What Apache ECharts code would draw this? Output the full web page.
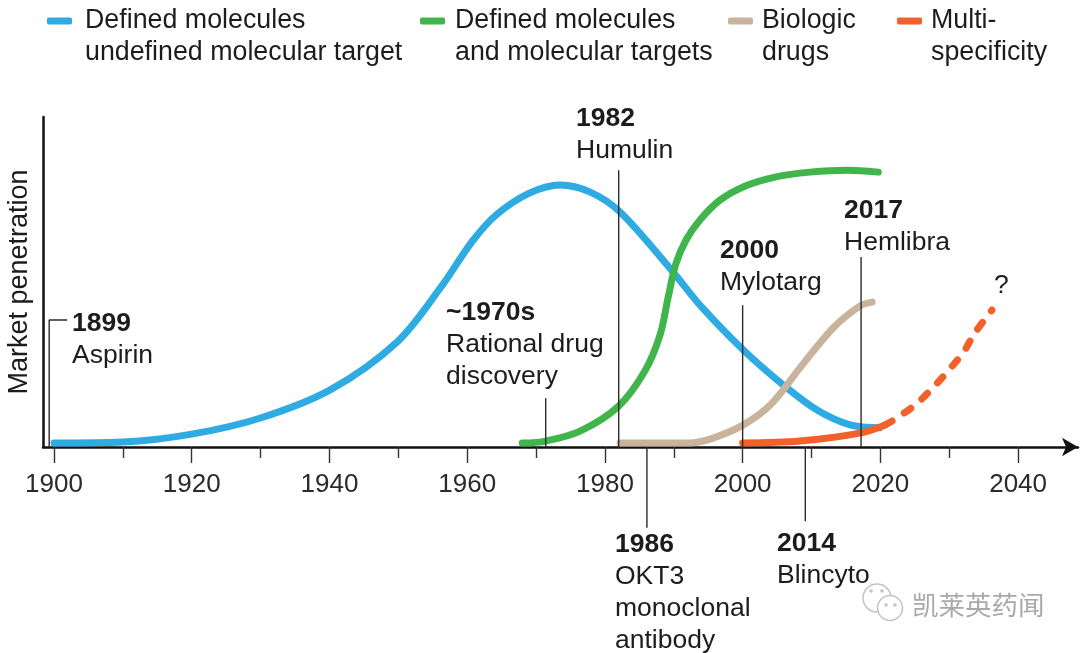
<!DOCTYPE html>
<html>
<head>
<meta charset="utf-8">
<title>Market penetration</title>
<script src="https://cdn.jsdelivr.net/npm/echarts@6/dist/echarts.min.js"></script>
<style>
html,body{margin:0;padding:0;background:#fff;}
#main{width:1080px;height:653px;}
</style>
</head>
<body>
<div id="main"></div>
<script>
// curves: year / market penetration
var blueYears = [1900,1910,1920,1930,1940.1,1949.8,1956.1,1960.8,1964.3,1969.1,1973.5,1977.8,1982.2,1989.9,1993.8,2000.1,2005.9,2010.8,2015.6,2019.9];
var blueValues = [1.2,1.5,3.9,8.8,17.3,31.8,48.2,62.5,70.5,77,79.4,77.3,71.2,53,43,29.4,18.8,11.2,6.7,5.8];
var greenYears = [1968,1971.4,1976.4,1982,1985.8,1988,1989.2,1990.3,1991.8,1993.8,1996.7,2000.4,2004.7,2009.8,2015.2,2019.7];
var greenValues = [1.2,1.8,4.8,12.4,23,33.9,45.5,55.5,62.8,68.8,74.8,79.1,81.8,83.3,83.9,83.3];
var tanYears = [1982.2,1992.3,1995.7,2000.1,2004,2008.3,2013.1,2017,2018.8];
var tanValues = [1.2,1.2,2.7,6.7,12.7,23.9,36,42.7,43.9];
var orangeYears = [2000,2008.3,2017,2020.7];
var orangeValues = [1.2,1.8,4.2,6.7];
var dashYears = [2020.7,2022.4,2025.2,2027.6,2029.8,2032,2033.7,2036.2];
var dashValues = [6.7,8.8,13,17.9,23,28.5,34.5,41.5];

// leader lines
var leaderYears = [1971.4,1982,1986.1,2000,2009.1,2017.2];
var leaderValues = [14.8,83.9,-24.5,43,-22.5,57.6];
var aspirinYears = [1901.9,1899.3,1899.3];
var aspirinValues = [38.5,38.5,0];

// ticks
var majorTicks = [1900,1920,1940,1960,1980,2000,2020,2040];
var minorTicks = [1910,1930,1950,1970,1990,2010,2030];

var legendNames = ['Defined molecules\nundefined molecular target','Defined molecules\nand molecular targets','Biologic\ndrugs','Multi-\nspecificity'];
var noteTitles = ['1899','~1970s','1982','2000','2017','1986','2014','?'];
var noteLines = [['Aspirin'],['Rational drug','discovery'],['Humulin'],['Mylotarg'],['Hemlibra'],['OKT3','monoclonal','antibody'],['Blincyto'],[]];
var watermark = '凯莱英药闻';

var FONT = '"Liberation Sans", Arial, sans-serif';
var TEXT = '#1c1c1c';
var notePos = [[72,322],[446,311],[576,117],[720,249],[844,209],[615,543],[777,542],[994,284]];
var legendLeft = [47,420,728,897];
var legendGap = [8,5,4,4];
var legendColors = ['#2dabe2','#3fb54c','#c9b39c','#f4602a'];

function zip(a,b){
	var r = [];
	for(var i=0;i<a.length;i++){ r.push([a[i],b[i]]); }
	return r;
}

function curve(name,years,values,color,dash){
	return {
		name:name,type:'line',data:zip(years,values),smooth:0.33,showSymbol:false,clip:false,silent:true,
		color:color,
		lineStyle:{color:color,width:7,cap:'round',join:'round',type:dash?[8,14.5]:'solid'}
	};
}

var series = [
	curve(legendNames[0],blueYears,blueValues,legendColors[0]),
	curve(legendNames[1],greenYears,greenValues,legendColors[1]),
	curve(legendNames[2],tanYears,tanValues,legendColors[2]),
	curve(legendNames[3],orangeYears,orangeValues,legendColors[3]),
	curve('projected',dashYears,dashValues,legendColors[3],true)
];

// 引线画在曲线上面
function leader(data){
	return {type:'line',data:data,showSymbol:false,clip:false,silent:true,z:5,lineStyle:{color:'#2b2b2b',width:1.4}};
}
for(var i=0;i<leaderYears.length;i++){
	series.push(leader([[leaderYears[i],0],[leaderYears[i],leaderValues[i]]]));
}
series.push(leader(zip(aspirinYears,aspirinValues)));

var legends = [];
for(var j=0;j<legendNames.length;j++){
	legends.push({
		data:[{name:legendNames[j],icon:'roundRect'}],
		left:legendLeft[j],top:-27,padding:0,
		itemWidth:25,itemHeight:7,selectedMode:false,
		// 空的第一行让图标对齐文字第一行
		formatter:function(n){return ' \n'+n;},
		textStyle:{fontFamily:FONT,fontSize:26.8,lineHeight:32,color:TEXT,padding:[0,0,0,legendGap[j]]}
	});
}

var graphics = [];
function addText(x,y,str,bold){
	graphics.push({type:'text',left:x,top:y-13,silent:true,style:{
		text:str,x:0,y:0,fill:TEXT,font:(bold?'bold ':'')+'26.5px '+FONT,textVerticalAlign:'top',lineHeight:30
	}});
}
for(var k=0;k<noteTitles.length;k++){
	addText(notePos[k][0],notePos[k][1],noteTitles[k],noteTitles[k]!='?');
	for(var m=0;m<noteLines[k].length;m++){
		addText(notePos[k][0],notePos[k][1]+32*(m+1),noteLines[k][m],false);
	}
}

// 水印
var grayLine = {fill:'#fff',stroke:'#c4c4c4',lineWidth:1.5};
graphics.push({type:'circle',shape:{cx:877,cy:598,r:14},style:grayLine,silent:true});
graphics.push({type:'circle',shape:{cx:890,cy:608,r:12.5},style:grayLine,silent:true});
var eyes = [[871,591],[882,591],[886,605],[895,605]];
for(var e=0;e<eyes.length;e++){
	graphics.push({type:'circle',shape:{cx:eyes[e][0],cy:eyes[e][1],r:1.8},style:{fill:'#c4c4c4'},silent:true});
}
graphics.push({type:'text',left:912,top:592,silent:true,style:{text:watermark,fill:'#a9a9a9',font:'26.5px "Noto Sans CJK SC"'}});

var myChart = echarts.init(document.getElementById('main'),null,{renderer:'canvas'});
myChart.setOption({
	animation:false,
	backgroundColor:'#fff',
	grid:{left:43,right:2,top:117,bottom:206,outerBoundsMode:'none',containLabel:false},
	legend:legends,
	xAxis:[{
		type:'value',min:1898.4,max:2048.7,splitLine:{show:false},
		axisLine:{onZero:false,lineStyle:{color:'#111',width:2.5},symbol:['none','arrow'],symbolSize:[14,16]},
		axisTick:{customValues:majorTicks,length:16,lineStyle:{color:'#333',width:1.4}},
		axisLabel:{customValues:majorTicks,margin:25,fontFamily:FONT,fontSize:26,color:'#2a2a2a',formatter:function(v){return String(v);}}
	},{
		type:'value',min:1898.4,max:2048.7,position:'bottom',splitLine:{show:false},
		axisLine:{show:false},
		axisTick:{customValues:minorTicks,length:11,lineStyle:{color:'#333',width:1.4}},
		axisLabel:{show:false}
	}],
	yAxis:{
		type:'value',min:0,max:100,splitLine:{show:false},
		name:'Market penetration',nameLocation:'middle',nameGap:10,nameRotate:90,
		nameTextStyle:{fontFamily:FONT,fontSize:27,color:TEXT},
		axisLine:{show:true,lineStyle:{color:'#111',width:2.5}},
		axisTick:{show:false},axisLabel:{show:false}
	},
	series:series,
	graphic:graphics
});
</script>
</body>
</html>
